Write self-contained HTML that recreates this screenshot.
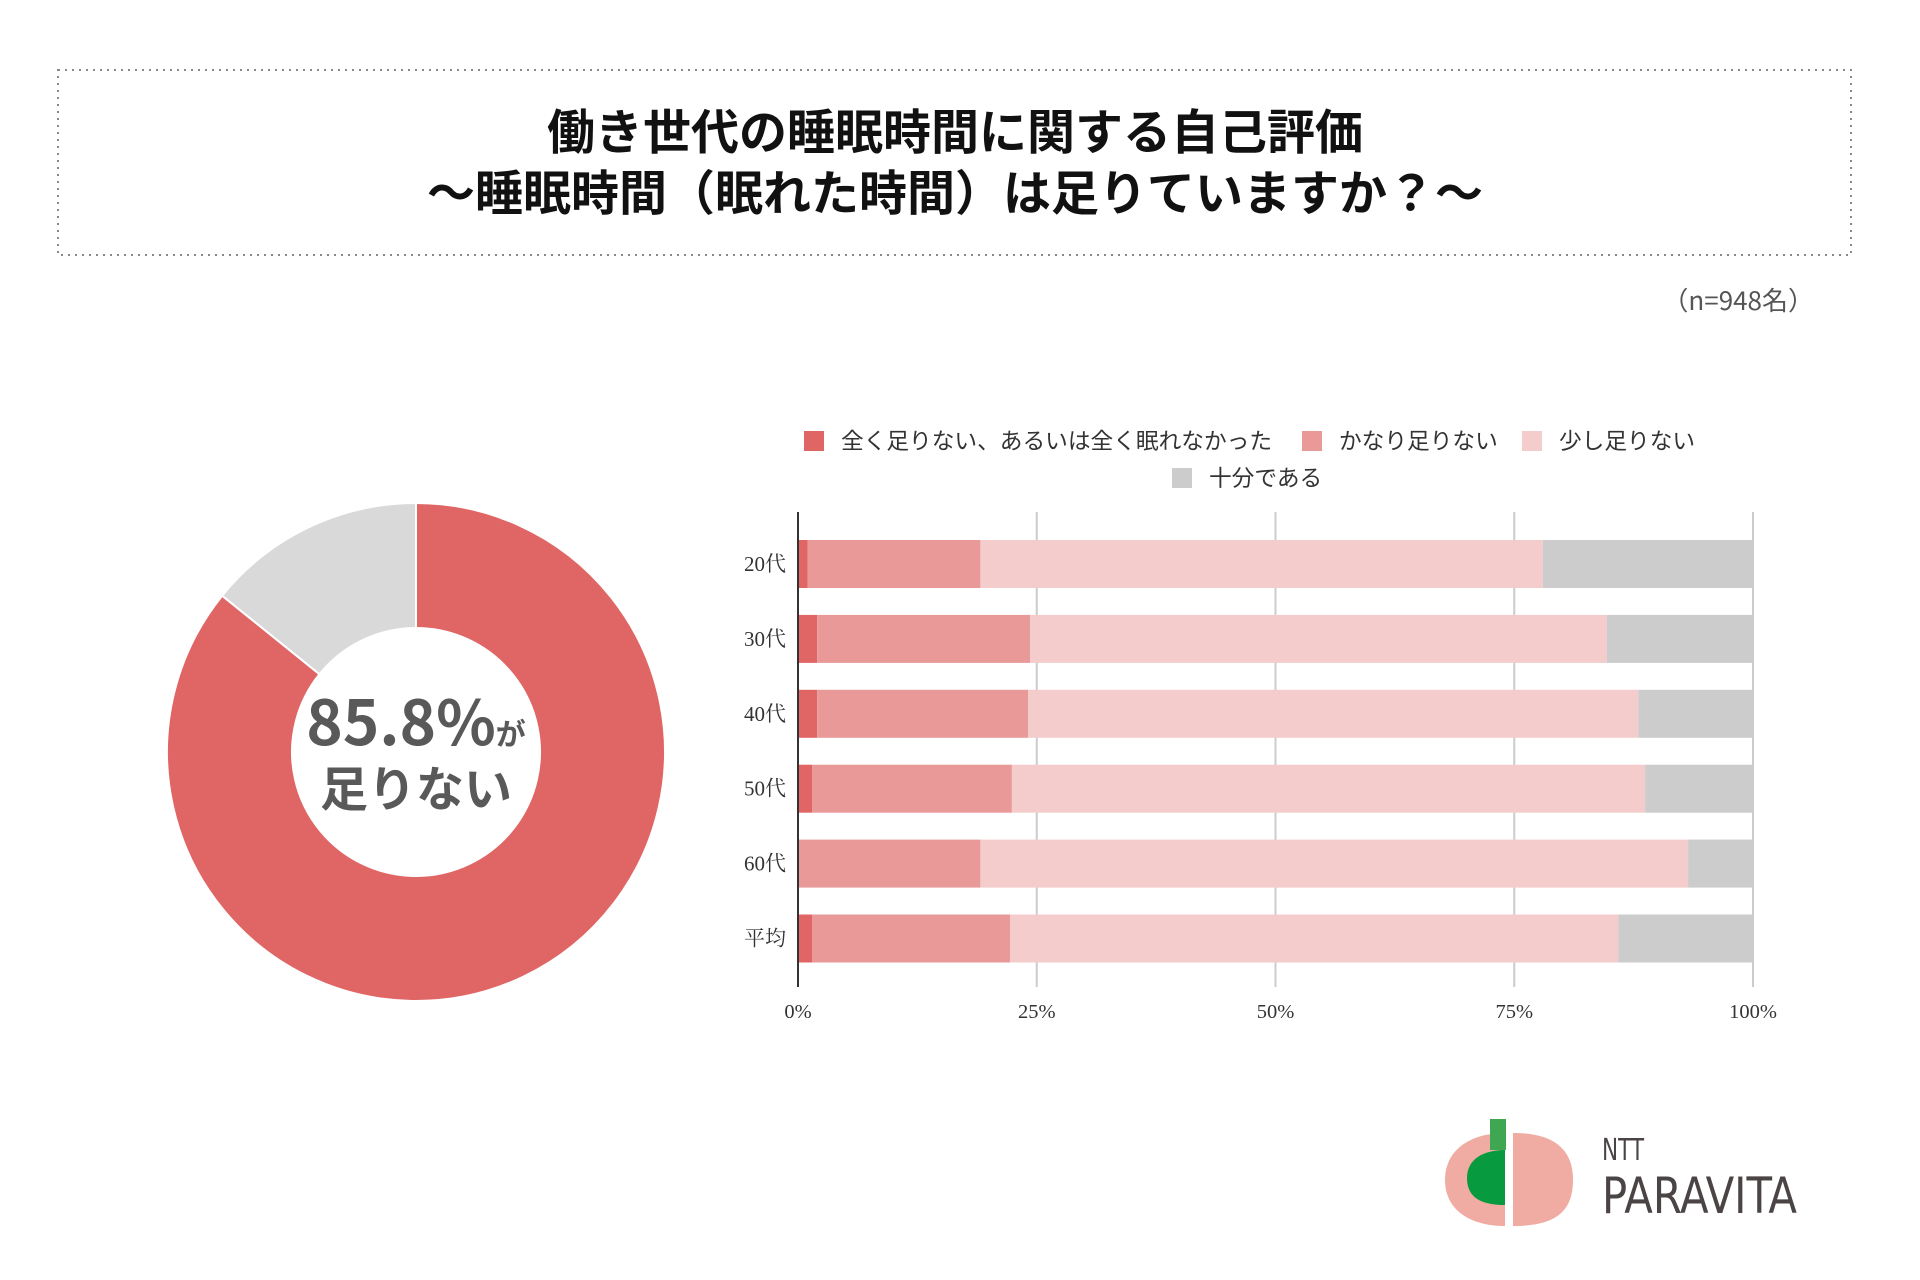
<!DOCTYPE html>
<html><head><meta charset="utf-8"><style>
body{margin:0;width:1920px;height:1280px;background:#fff;overflow:hidden;font-family:"Liberation Sans","Noto Sans CJK JP",sans-serif;}
svg{position:absolute;left:0;top:0}
</style></head><body>
<svg width="1920" height="1280">
<rect x="58" y="70" width="1793" height="185" fill="none" stroke="#888" stroke-width="2" stroke-dasharray="2,5"/>
<text x="955" y="149" text-anchor="middle" font-size="48" font-weight="bold" fill="#111" font-family="'Noto Sans CJK JP',sans-serif">働き世代の睡眠時間に関する自己評価</text>
<text x="955" y="210" text-anchor="middle" font-size="48" font-weight="bold" fill="#111" font-family="'Noto Sans CJK JP',sans-serif">～睡眠時間（眠れた時間）は足りていますか？～</text>
<text x="1814" y="310" text-anchor="end" font-size="26" fill="#555" font-family="'Noto Sans CJK JP',sans-serif">（n=948名）</text>
<g id="donut"></g>
<text x="416" y="745" text-anchor="middle" font-size="62" font-weight="bold" fill="#595959" font-family="'Noto Sans CJK JP',sans-serif">85.8%<tspan font-size="30">が</tspan></text>
<text x="416" y="806" text-anchor="middle" font-size="48" font-weight="bold" fill="#595959" font-family="'Noto Sans CJK JP',sans-serif">足りない</text>
<g id="legend"></g>
<g id="bars"></g>
<g>
<path d="M1505,1133 C1470,1133 1445,1150 1445,1180 C1445,1210 1470,1226 1505,1226 Z" fill="#f0aca3"/>
<path d="M1513,1133 C1555,1133 1573,1150 1573,1180 C1573,1212 1555,1226 1513,1226 Z" fill="#f0aca3"/>
<path d="M1505,1150 L1505,1205 C1485,1205 1467,1200 1467,1178 C1467,1158 1485,1150 1505,1150 Z" fill="#079a3e"/>
<rect x="1490" y="1119" width="16" height="31" fill="#3fa652"/>
<text x="1602" y="1160" font-size="30" fill="#4a4444" font-family="'DejaVu Sans Condensed','Liberation Sans Narrow',sans-serif" textLength="42" lengthAdjust="spacingAndGlyphs">NTT</text>
<text x="1602" y="1213" font-size="50" fill="#4a4444" font-family="'DejaVu Sans Condensed','Liberation Sans Narrow',sans-serif" textLength="195" lengthAdjust="spacingAndGlyphs">PARAVITA</text>
</g>
</svg>
<script>
const categories=["20代","30代","40代","50代","60代","平均"];
const seriesNames=["全く足りない、あるいは全く眠れなかった","かなり足りない","少し足りない","十分である"];
const s1=[1.0,2.0,2.0,1.5,0,1.5];
const s2=[18.1,22.3,22.1,20.9,19.1,20.7];
const s3=[58.9,60.4,63.9,66.3,74.1,63.7];
const s4=[22.0,15.3,12.0,11.3,6.8,14.1];
const ticks=["0%","25%","50%","75%","100%"];
const tickValues=[0,25,50,75,100];
const donutValues=[85.8,14.2];
const colors=["#e06666","#ea9999","#f4cccc","#cccccc"];
const NS="http://www.w3.org/2000/svg";
function mk(t,a,p){const e=document.createElementNS(NS,t);for(const k in a)e.setAttribute(k,a[k]);p.appendChild(e);return e;}
// donut
const dg=document.getElementById('donut');
const cx=416,cy=752,R=249,r=124;
let ang=0;const dcol=["#e06666","#d9d9d9"];
const dtot=donutValues.reduce((a,b)=>a+b,0);
donutValues.forEach((v,i)=>{
 const a0=ang,a1=ang+v/dtot*2*Math.PI;ang=a1;
 const p=(a,rr)=>[cx+rr*Math.sin(a),cy-rr*Math.cos(a)];
 const large=(a1-a0)>Math.PI?1:0;
 const [x0,y0]=p(a0,R),[x1,y1]=p(a1,R),[x2,y2]=p(a1,r),[x3,y3]=p(a0,r);
 const e=mk('path',{d:`M${x0},${y0}A${R},${R} 0 ${large} 1 ${x1},${y1}L${x2},${y2}A${r},${r} 0 ${large} 0 ${x3},${y3}Z`,fill:dcol[i],stroke:'#fff','stroke-width':2},dg);
 
 
});
// legend
const lg=document.getElementById('legend');
const lpos=[[804,441],[1302,441],[1522,441],[1172,478]];
seriesNames.forEach((n,i)=>{
 const [x,y]=lpos[i];
 const s=mk('rect',{x:x,y:y-10,width:20,height:20,fill:colors[i]},lg);
 
 
 const t=mk('text',{x:x+37,y:y+8,'font-size':22.7,fill:'#333','font-family':"'Noto Sans CJK JP',sans-serif"},lg);
 t.textContent=n;
 
 
});
// bars
const bg=document.getElementById('bars');
const X0=798,X1=1753,plotTop=512,plotBottom=987;
const xs=v=>X0+(X1-X0)*v/100;
const rowY=i=>564+i*74.9;
tickValues.forEach((v,i)=>{
 if(v>0){const g=mk('line',{x1:xs(v),x2:xs(v),y1:plotTop,y2:plotBottom,stroke:'#cccccc','stroke-width':2},bg);
 
 }
 const t=mk('text',{x:xs(v),y:1018,'text-anchor':'middle','font-size':20.5,fill:'#333','font-family':"'Liberation Serif','Noto Serif CJK SC',serif"},bg);
 t.textContent=ticks[i];
 
 
});
const series=[s1,s2,s3,s4];
categories.forEach((c,i)=>{
 let acc=0;const y=rowY(i);
 series.forEach((s,j)=>{
  const v=s[i];
  const b=mk('rect',{x:xs(acc),y:y-24,width:Math.max(0,xs(acc+v)-xs(acc)),height:48,fill:colors[j]},bg);
  
  
  acc+=v;
 });
 const t=mk('text',{x:786,y:y+7,'text-anchor':'end','font-size':21,fill:'#333','font-family':"'Liberation Serif','Noto Serif CJK SC',serif"},bg);
 t.textContent=c;
 
 
});
const ax=mk('line',{x1:X0,x2:X0,y1:plotTop,y2:plotBottom,stroke:'#333','stroke-width':2},bg);


</script>
</body></html>
